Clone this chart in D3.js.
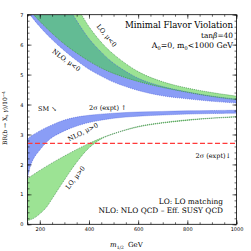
<!DOCTYPE html>
<html lang="en">
<head>
<meta charset="UTF-8">
<script src="https://d3js.org/d3.v7.min.js"></script>
<style>
  body { margin: 0; background: #fff; }
  svg { display: block; }
  text { font-family: "DejaVu Serif", serif; fill: #000; }
</style>
</head>
<body>
<div id="chart"></div>
<script>
// BR(b -> Xs gamma)/1e-4 vs m_1/2 (GeV)
// mu < 0, NLO (blue) and LO (green) bands
const nloNegLower = [[160,7.0],[200,6.6],[250,6.17],[300,5.8],[350,5.47],[400,5.18],[450,4.95],[500,4.75],[600,4.47],[700,4.29],[800,4.19],[900,4.11],[1000,4.05]];
const nloNegUpper = [[335,7.0],[350,6.8],[400,6.2],[450,5.75],[500,5.38],[600,4.88],[700,4.6],[800,4.42],[900,4.28],[1000,4.18]];
const loNegLower = [[175,7.0],[200,6.78],[250,6.38],[300,6.02],[350,5.72],[400,5.45],[450,5.22],[500,5.04],[600,4.77],[700,4.57],[800,4.41],[900,4.27],[1000,4.16]];
const loNegUpper = [[370,7.0],[400,6.6],[450,6.08],[500,5.68],[600,5.1],[700,4.76],[800,4.55],[900,4.4],[1000,4.28]];
// mu > 0
const nloPosLower = [[150,1.53],[160,1.9],[175,2.2],[200,2.48],[225,2.72],[250,2.9],[300,3.12],[350,3.28],[400,3.4],[500,3.54],[600,3.61],[700,3.65],[800,3.68],[900,3.7],[1000,3.71]];
const nloPosUpper = [[150,2.87],[200,3.12],[250,3.32],[300,3.48],[350,3.58],[400,3.64],[500,3.71],[600,3.75],[700,3.77],[800,3.79],[900,3.8],[1000,3.81]];
const loPosLower = [[150,0.12],[175,0.2],[200,0.35],[225,0.55],[250,0.85],[275,1.17],[300,1.48],[350,2.07],[400,2.55],[450,2.85],[500,3.02],[600,3.25],[700,3.38],[800,3.47],[900,3.54],[1000,3.58]];
const loPosUpper = [[150,1.53],[200,1.8],[250,2.05],[300,2.28],[350,2.5],[400,2.7],[450,2.88],[500,3.03],[600,3.27],[700,3.4],[800,3.49],[900,3.55],[1000,3.6]];

const exptLower = 2.7;
const xTicks = [200, 400, 600, 800, 1000];
const xTickLabels = ["200", "400", "600", "800", "1000"];
const yTicks = [0, 1, 2, 3, 4, 5, 6, 7];
const yTickLabels = ["0", "1", "2", "3", "4", "5", "6", "7"];

const width = 251, height = 251;
const plotL = 27.5, plotR = 236.5, plotT = 14.7, plotB = 224.3;

const svg = d3.select("#chart").append("svg")
  .attr("width", width).attr("height", height);

const x = d3.scaleLinear().domain([150, 1000]).range([plotL, plotR]);
const y = d3.scaleLinear().domain([0, 7]).range([plotB, plotT]);

const blue = "#8a9df6", green = "#9ce394", teal = "#63bb94";

svg.append("clipPath").attr("id", "plot")
  .append("rect").attr("x", plotL).attr("y", plotT)
  .attr("width", plotR - plotL).attr("height", plotB - plotT);

const line = d3.line().x(d => x(d[0])).y(d => y(d[1])).curve(d3.curveCatmullRom);
const band = (lo, hi) => line(lo) + line(hi.slice().reverse()).replace(/^M/, "L") + "Z";

const g = svg.append("g").attr("clip-path", "url(#plot)");

g.append("path").attr("d", band(nloNegLower, nloNegUpper)).attr("fill", blue);
g.append("path").attr("d", band(loNegLower, loNegUpper)).attr("fill", green);
svg.append("clipPath").attr("id", "nloneg")
  .append("path").attr("d", band(nloNegLower, nloNegUpper));
g.append("g").attr("clip-path", "url(#nloneg)")
  .append("path").attr("d", band(loNegLower, loNegUpper)).attr("fill", teal);

g.append("path").attr("d", band(nloPosLower, nloPosUpper)).attr("fill", blue);
g.append("path").attr("d", band(loPosLower, loPosUpper)).attr("fill", green);

// dotted band edges
[[nloNegLower, "#3f55d8"], [nloNegUpper, "#3f55d8"], [nloPosLower, "#3f55d8"], [nloPosUpper, "#3f55d8"],
 [loNegLower, "#2b7a3a"], [loNegUpper, "#2b7a3a"], [loPosLower, "#2b7a3a"], [loPosUpper, "#2b7a3a"]]
  .forEach(([d, c]) => {
    g.append("path").attr("d", line(d)).attr("fill", "none")
      .attr("stroke", c).attr("stroke-width", 0.6).attr("stroke-dasharray", "1,1");
  });

// lower 2 sigma experimental bound
svg.append("line")
  .attr("x1", plotL).attr("x2", plotR)
  .attr("y1", y(exptLower)).attr("y2", y(exptLower))
  .style("stroke", "#ff3a3a").style("stroke-width", 1.3).style("stroke-dasharray", "5,2.5");

// axes, ticks inward on all four sides
const xMinor = d3.range(150, 1001, 50);
const yMinor = d3.range(0, 7.01, 0.2);

function styleAxis(sel) {
  sel.select(".domain").remove();
  sel.selectAll("line").attr("stroke", "#000").attr("stroke-width", 0.6);
  sel.selectAll("text").style("font-family", "DejaVu Sans, sans-serif").style("font-size", "5px");
}

svg.append("g").attr("transform", `translate(0,${plotB})`)
  .call(d3.axisBottom(x).tickValues(xMinor).tickSize(-2).tickFormat("")).call(styleAxis);
svg.append("g").attr("transform", `translate(0,${plotB})`)
  .call(d3.axisBottom(x).tickValues(xTicks).tickSize(-4).tickPadding(3)
    .tickFormat((d, i) => xTickLabels[i])).call(styleAxis);
svg.append("g").attr("transform", `translate(0,${plotT})`)
  .call(d3.axisTop(x).tickValues(xMinor).tickSize(-2).tickFormat("")).call(styleAxis);
svg.append("g").attr("transform", `translate(0,${plotT})`)
  .call(d3.axisTop(x).tickValues(xTicks).tickSize(-4).tickFormat("")).call(styleAxis);

svg.append("g").attr("transform", `translate(${plotL},0)`)
  .call(d3.axisLeft(y).tickValues(yMinor).tickSize(-2).tickFormat("")).call(styleAxis);
svg.append("g").attr("transform", `translate(${plotL},0)`)
  .call(d3.axisLeft(y).tickValues(yTicks).tickSize(-4).tickPadding(4)
    .tickFormat((d, i) => yTickLabels[i])).call(styleAxis);
svg.append("g").attr("transform", `translate(${plotR},0)`)
  .call(d3.axisRight(y).tickValues(yMinor).tickSize(-2).tickFormat("")).call(styleAxis);
svg.append("g").attr("transform", `translate(${plotR},0)`)
  .call(d3.axisRight(y).tickValues(yTicks).tickSize(-4).tickFormat("")).call(styleAxis);

svg.append("rect").attr("x", plotL).attr("y", plotT)
  .attr("width", plotR - plotL).attr("height", plotB - plotT)
  .attr("fill", "none").attr("stroke", "#000").attr("stroke-width", 0.8);

// labels
const fs = 7.4;
const txt = (tx, ty, s, anchor = "start", size = fs, rot = 0) =>
  svg.append("text")
    .attr("transform", `translate(${tx},${ty}) rotate(${rot})`)
    .attr("text-anchor", anchor).style("font-size", size + "px").text(s);

txt(233, 28, "Minimal Flavor Violation", "end", 8.6);
const tanb = txt(233, 38, "", "end");
tanb.append("tspan").text("tan");
tanb.append("tspan").style("font-style", "italic").text("β");
tanb.append("tspan").text("=40");
const a0 = txt(233, 48, "", "end", 7.8);
a0.append("tspan").text("A");
a0.append("tspan").attr("dy", 1.5).style("font-size", "5px").text("0");
a0.append("tspan").attr("dy", -1.5).text("=0, m");
a0.append("tspan").attr("dy", 1.5).style("font-size", "5px").text("0");
a0.append("tspan").attr("dy", -1.5).text("<1000 GeV");

txt(223, 204, "LO: LO matching", "end");
txt(223, 213, "NLO: NLO QCD – Eff. SUSY QCD", "end");

txt(38, 110.5, "SM ↘", "start", 6.5);
txt(89, 110, "2σ (expt) ↑", "start", 6.5);
txt(231, 158, "2σ (expt)↓", "end", 6.5);

txt(105, 37, "LO, μ<0", "middle", 6.5, 50);
txt(65, 62, "NLO, μ<0", "middle", 6.5, 36);
txt(84, 134, "NLO, μ>0", "middle", 6.5, -27);
txt(77, 179, "LO, μ>0", "middle", 6.5, -52);

// axis titles
const xl = txt(110, 247, "", "start", 7);
xl.append("tspan").style("font-style", "italic").text("m");
xl.append("tspan").attr("dy", 1.5).style("font-size", "4.5px").text("1/2");
xl.append("tspan").attr("dy", -1.5).attr("dx", 4).text("GeV");

const yl = txt(7, 118, "", "middle", 6, -90);
yl.append("tspan").text("BR(b → X");
yl.append("tspan").attr("dy", 1.2).style("font-size", "4.2px").text("s");
yl.append("tspan").attr("dy", -1.2).style("font-style", "italic").text(" γ");
yl.append("tspan").text(")/10");
yl.append("tspan").attr("dy", -2.5).style("font-size", "4.2px").text("−4");
</script>
</body>
</html>
